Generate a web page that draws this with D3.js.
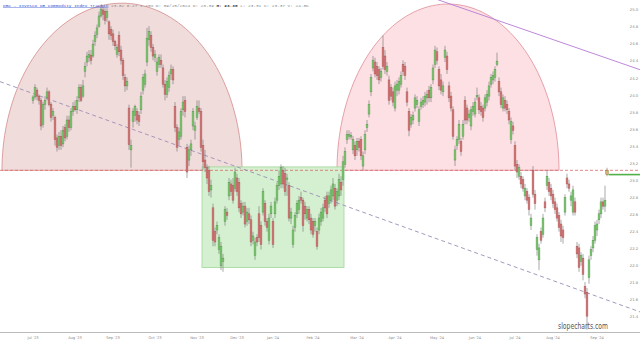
<!DOCTYPE html>
<html><head><meta charset="utf-8">
<script src="https://cdn.jsdelivr.net/npm/d3@7"></script>
<style>html,body{margin:0;padding:0;background:#fff;}svg{display:block;}</style>
</head><body>
<svg id="chart" width="640" height="341"></svg>
<script>
// Daily bars, one row per session: [open, high, low, close]
const bars = [
[23.94,24.00,23.90,23.98],[23.98,24.13,23.95,24.09],[24.06,24.09,23.94,23.99],[23.99,24.01,23.89,23.94],[23.94,23.97,23.59,23.64],
[23.66,23.92,23.62,23.89],[23.89,23.99,23.83,23.94],[23.97,24.09,23.94,24.04],[24.04,24.06,23.87,23.89],[23.89,23.92,23.69,23.74],
[23.76,23.85,23.71,23.81],[23.74,23.76,23.41,23.48],[23.50,23.54,23.34,23.39],[23.41,23.57,23.36,23.52],[23.52,23.59,23.36,23.41],
[23.43,23.64,23.39,23.59],[23.62,23.66,23.46,23.50],[23.52,23.76,23.48,23.71],[23.71,23.76,23.57,23.62],[23.62,23.85,23.59,23.81],
[23.81,23.92,23.76,23.87],[23.87,23.94,23.81,23.83],[23.83,23.99,23.78,23.94],[23.97,24.13,23.92,24.09],[24.09,24.13,23.92,23.94],
[23.99,24.18,23.97,24.11],[24.28,24.39,24.21,24.34],[24.39,24.51,24.34,24.46],[24.44,24.53,24.39,24.48],[24.47,24.53,24.36,24.41],
[24.46,24.65,24.44,24.60],[24.63,24.75,24.58,24.70],[24.71,24.83,24.67,24.79],[24.81,24.98,24.79,24.93],[24.93,25.06,24.91,25.01],
[25.00,25.05,24.88,24.95],[24.98,25.02,24.83,24.88],[24.91,25.02,24.86,24.98],[24.86,24.88,24.65,24.72],[24.77,24.81,24.65,24.70],
[24.72,24.77,24.58,24.63],[24.63,24.65,24.53,24.58],[24.48,24.60,24.44,24.56],[24.70,24.75,24.46,24.51],[24.53,24.58,24.36,24.41],
[24.41,24.44,24.18,24.23],[24.21,24.25,24.04,24.11],[24.11,24.21,24.06,24.16],[23.85,23.89,23.36,23.42],[23.36,23.48,23.15,23.41],
[23.69,23.85,23.62,23.81],[23.76,23.89,23.69,23.87],[23.81,23.85,23.66,23.71],[23.76,23.81,23.64,23.69],[23.83,24.04,23.78,23.99],
[24.06,24.25,24.01,24.21],[24.13,24.30,24.09,24.25],[24.39,24.79,24.34,24.67],[24.65,24.81,24.58,24.75],[24.70,24.75,24.51,24.56],
[24.56,24.60,24.41,24.46],[24.44,24.53,24.39,24.48],[24.28,24.44,24.23,24.39],[24.36,24.48,24.32,24.44],[24.41,24.48,24.32,24.36],
[24.32,24.36,24.09,24.13],[24.13,24.18,23.94,24.01],[24.01,24.21,23.97,24.16],[24.09,24.28,24.04,24.23],[24.25,24.36,24.18,24.30],
[24.30,24.34,24.13,24.18],[23.87,23.92,23.57,23.62],[23.62,23.66,23.34,23.39],[23.48,23.62,23.41,23.57],[23.52,23.85,23.48,23.81],
[23.83,23.99,23.76,23.92],[23.94,23.99,23.74,23.81],[23.39,23.43,23.03,23.10],[23.24,23.41,23.17,23.36],[23.36,23.48,23.29,23.43],
[23.64,23.85,23.59,23.81],[23.59,23.69,23.48,23.64],[23.74,23.94,23.71,23.87],[23.85,23.94,23.78,23.81],[23.81,23.85,23.34,23.39],
[23.41,23.48,23.12,23.22],[23.24,23.36,23.10,23.15],[23.15,23.19,22.96,23.03],[23.12,23.17,22.82,22.87],[22.89,23.01,22.80,22.94],
[22.68,22.73,22.23,22.30],[22.40,22.45,22.23,22.28],[22.42,22.52,22.37,22.47],[22.19,22.37,22.14,22.33],[22.00,22.28,21.95,22.23],
[22.05,22.14,21.93,22.09],[22.52,22.70,22.47,22.66],[22.63,22.68,22.54,22.59],[22.82,23.03,22.77,22.98],[22.96,23.01,22.82,22.87],
[22.94,23.03,22.73,22.77],[22.91,23.15,22.87,23.10],[23.03,23.08,22.82,22.87],[22.98,23.03,22.63,22.68],[22.73,22.77,22.56,22.61],
[22.63,22.75,22.59,22.70],[22.70,22.75,22.45,22.49],[22.52,22.68,22.47,22.63],[22.61,22.68,22.49,22.54],[22.54,22.59,22.23,22.28],
[22.30,22.40,22.25,22.35],[22.12,22.33,22.07,22.28],[22.33,22.37,22.23,22.28],[22.61,22.70,22.28,22.33],[22.47,22.52,22.19,22.25],
[22.63,22.91,22.59,22.87],[22.73,22.77,22.47,22.52],[22.52,22.56,22.40,22.45],[22.30,22.61,22.25,22.56],[22.61,22.75,22.56,22.70],
[22.52,22.56,22.21,22.25],[22.61,22.80,22.56,22.75],[22.77,22.98,22.73,22.94],[22.94,23.12,22.89,23.05],[22.96,23.19,22.91,23.15],
[23.12,23.17,22.91,22.96],[23.08,23.15,22.82,22.87],[23.01,23.08,22.82,23.03],[22.94,22.98,22.52,22.56],[22.56,22.68,22.49,22.63],
[22.25,22.47,22.21,22.42],[22.45,22.63,22.40,22.59],[22.61,22.77,22.56,22.73],[22.66,22.82,22.61,22.77],[22.80,22.87,22.73,22.77],
[22.77,22.80,22.40,22.47],[22.70,22.75,22.54,22.61],[22.56,22.70,22.52,22.66],[22.66,22.70,22.49,22.54],[22.56,22.61,22.37,22.42],
[22.52,22.56,22.33,22.37],[22.47,22.56,22.40,22.52],[22.40,22.45,22.19,22.23],[22.42,22.61,22.37,22.56],[22.52,22.68,22.47,22.63],
[22.56,22.73,22.52,22.68],[22.77,22.82,22.63,22.68],[22.82,22.87,22.56,22.61],[22.73,22.87,22.68,22.82],[22.77,22.94,22.73,22.89],
[22.82,23.03,22.77,22.96],[22.91,22.96,22.66,22.70],[22.77,22.91,22.70,22.87],[22.82,23.08,22.77,23.01],[22.98,23.05,22.82,22.89],
[23.01,23.29,22.94,23.22],[23.19,23.39,23.15,23.34],[23.48,23.59,23.43,23.54],[23.52,23.59,23.48,23.54],[23.51,23.57,23.48,23.53],
[23.36,23.52,23.31,23.48],[23.41,23.46,23.24,23.29],[23.36,23.50,23.29,23.46],[23.46,23.50,23.34,23.39],[23.48,23.52,23.24,23.29],
[23.17,23.34,23.12,23.29],[23.36,23.59,23.31,23.54],[23.62,23.71,23.57,23.66],[23.78,23.94,23.74,23.89],[24.04,24.25,23.99,24.21],
[24.32,24.46,24.28,24.41],[24.39,24.44,24.21,24.25],[24.34,24.39,24.18,24.23],[24.30,24.34,24.13,24.18],[24.21,24.32,24.16,24.28],
[24.56,24.70,24.30,24.34],[24.46,24.53,24.25,24.30],[24.28,24.39,24.23,24.34],[24.18,24.23,23.89,23.94],[24.09,24.13,23.94,23.99],
[24.04,24.09,23.87,23.92],[23.85,24.16,23.81,24.11],[24.06,24.18,23.99,24.13],[24.06,24.21,24.01,24.16],[24.13,24.28,24.09,24.23],
[24.36,24.41,24.23,24.28],[24.34,24.39,24.18,24.23],[24.04,24.09,23.87,23.92],[23.81,23.85,23.52,23.59],[23.66,23.78,23.62,23.74],
[23.71,23.81,23.66,23.76],[23.85,24.01,23.81,23.97],[23.89,23.99,23.85,23.94],[23.69,23.87,23.64,23.83],[23.87,23.97,23.83,23.92],
[23.89,23.99,23.85,23.94],[23.92,24.04,23.87,23.99],[23.97,24.06,23.89,24.01],[24.06,24.11,23.92,23.97],[23.97,24.13,23.92,24.09],
[24.18,24.36,24.13,24.32],[24.36,24.58,24.32,24.53],[24.51,24.56,24.36,24.41],[24.30,24.34,24.06,24.11],[24.18,24.25,24.01,24.06],
[24.04,24.16,23.99,24.11],[24.44,24.58,24.39,24.53],[24.46,24.51,24.25,24.30],[24.11,24.16,23.92,23.97],[23.99,24.04,23.81,23.85],
[23.83,23.87,23.48,23.52],[23.24,23.41,23.17,23.36],[23.41,23.52,23.36,23.48],[23.48,23.71,23.43,23.66],[23.46,23.50,23.29,23.34],
[23.52,23.71,23.48,23.66],[23.94,23.99,23.66,23.71],[23.85,23.89,23.66,23.71],[23.74,23.83,23.69,23.78],[23.64,23.87,23.59,23.83],
[23.81,23.92,23.76,23.87],[23.78,23.97,23.74,23.92],[23.98,24.09,23.94,24.00],[23.97,24.01,23.78,23.83],[23.87,23.92,23.76,23.81],
[23.85,23.89,23.69,23.74],[23.85,24.01,23.81,23.97],[23.92,24.06,23.87,24.01],[23.99,24.16,23.94,24.11],[24.13,24.25,24.09,24.21],
[24.18,24.28,24.13,24.23],[24.21,24.34,24.16,24.30],[24.36,24.50,24.34,24.40],[24.16,24.21,23.99,24.04],[24.04,24.09,23.85,23.89],
[23.85,24.01,23.81,23.97],[23.94,23.99,23.81,23.85],[23.89,23.94,23.78,23.83],[23.81,23.85,23.66,23.71],[23.48,23.74,23.43,23.69],
[23.64,23.69,23.54,23.59],[23.41,23.46,23.12,23.17],[23.19,23.24,23.03,23.10],[23.05,23.19,23.01,23.15],[23.05,23.10,22.91,22.96],
[23.01,23.05,22.87,22.91],[22.82,22.96,22.77,22.91],[22.87,22.91,22.73,22.77],[22.80,22.84,22.59,22.66],[22.47,22.61,22.42,22.56],
[23.12,23.17,22.80,22.84],[22.84,22.89,22.66,22.73],[22.19,22.37,22.12,22.33],[22.07,22.26,21.95,22.21],[22.40,22.45,22.26,22.30],
[22.37,22.61,22.33,22.56],[22.75,22.80,22.63,22.68],[22.94,23.12,22.89,23.05],[22.98,23.03,22.82,22.87],[22.91,22.96,22.77,22.82],
[22.84,22.89,22.68,22.73],[22.75,22.80,22.61,22.66],[22.68,22.73,22.52,22.56],[22.59,22.63,22.40,22.45],[22.49,22.54,22.28,22.35],
[22.42,22.47,22.26,22.33],[22.63,22.84,22.59,22.80],[23.03,23.08,22.91,22.96],[22.96,23.01,22.87,22.91],[22.77,22.87,22.70,22.82],
[22.63,22.94,22.59,22.89],[22.75,22.80,22.59,22.63],[22.23,22.28,22.09,22.14],[22.21,22.26,21.93,21.98],[22.05,22.16,22.00,22.12],
[22.09,22.14,21.83,21.90],[21.76,21.81,21.62,21.67],[21.69,21.74,21.25,21.41],[21.86,22.12,21.79,22.07],[22.12,22.23,22.07,22.19],
[22.21,22.35,22.16,22.30],[22.30,22.52,22.26,22.47],[22.42,22.54,22.35,22.49],[22.54,22.66,22.49,22.61],[22.61,22.80,22.56,22.75],
[22.75,22.80,22.66,22.70],[22.70,22.94,22.63,22.77]
];
// Current (live) session
const liveBar = [23.12, 23.15, 23.05, 23.07];

const monthLabels = ["Jul '23","Aug '23","Sep '23","Oct '23","Nov '23","Dec '23","Jan '24","Feb '24","Mar '24","Apr '24","May '24","Jun '24","Jul '24","Aug '24","Sep '24"];
const monthFirstBar = [0,21,40,61,82,102,120,140,162,181,202,221,241,260,282];
const priceTicks = [25.0,24.8,24.6,24.4,24.2,24.0,23.8,23.6,23.4,23.2,23.0,22.8,22.6,22.4,22.2,22.0,21.8,21.6,21.4];

// Drawn studies, in bar index / price units
const supportLevel = 23.12;
const leftDome  = {from: -15.5, to: 104.5, base: 23.12, top: 25.08};
const rightDome = {from: 152,   to: 263,   base: 23.12, top: 25.07};
const baseBox   = {from: 84.5,  to: 155.5, top: 23.16, bottom: 21.98};
const downTrend = [[-16.5, 24.16], [303.5, 21.46]];
const topTrend  = [[202.5, 25.12], [303.5, 24.30]];

const quote = {symbol: "DBC - Invesco DB Commodity Index Trackin", rest1: " 23.82 0.27 1.15% D: 09/25/2024 O: 23.39 ", hi: "H: 23.38", rest2: " L: 23.31 C: 23.37 V: 24.8K"};

const W = 640, H = 341, axisY = 332;
const svg = d3.select("#chart");
const x = d3.scaleLinear().domain([-16.5, 303.5]).range([0, W]);
const y = d3.scaleLinear().domain([21.4, 25.0]).range([317, 10]);

const plot = svg.append("g");
plot.append("clipPath").attr("id","clip").append("rect").attr("x",0).attr("y",0).attr("width",W).attr("height",axisY);
const g = plot.append("g").attr("clip-path","url(#clip)");

function domePath(d){
  const cx = (d.from + d.to) / 2, rx = (d.to - d.from) / 2;
  const pts = d3.range(0, 181, 2).map(a => {
    const t = a * Math.PI / 180;
    return [x(cx - rx * Math.cos(t)), y(d.base + (d.top - d.base) * Math.sin(t))];
  });
  return d3.line()(pts) + "Z";
}

g.append("path").attr("d", domePath(leftDome)).attr("fill","#f1dcdc").attr("stroke","#d38c8c").attr("stroke-width",0.8);
g.append("path").attr("d", domePath(rightDome)).attr("fill","#fde0e3").attr("stroke","#e08c95").attr("stroke-width",0.8);

g.append("rect")
  .attr("x", x(baseBox.from)).attr("y", y(baseBox.top))
  .attr("width", x(baseBox.to) - x(baseBox.from)).attr("height", y(baseBox.bottom) - y(baseBox.top))
  .attr("fill","#d5f0d0").attr("stroke","#9fd699").attr("stroke-width",0.8);

g.append("line").attr("x1",0).attr("x2",W).attr("y1",y(supportLevel)).attr("y2",y(supportLevel))
  .attr("stroke","#d96a6a").attr("stroke-width",0.8).attr("stroke-dasharray","3,2");

g.append("line")
  .attr("x1", x(downTrend[0][0])).attr("y1", y(downTrend[0][1]))
  .attr("x2", x(downTrend[1][0])).attr("y2", y(downTrend[1][1]))
  .attr("stroke","#9b8db5").attr("stroke-width",0.9).attr("stroke-dasharray","4,3");

g.append("line")
  .attr("x1", x(topTrend[0][0])).attr("y1", y(topTrend[0][1]))
  .attr("x2", x(topTrend[1][0])).attr("y2", y(topTrend[1][1]))
  .attr("stroke","#b57ad6").attr("stroke-width",0.9);

// candles
const bw = 1.8;
const cg = g.append("g");
bars.forEach((d, i) => {
  const [o, h, l, c] = d;
  const up = c >= o;
  cg.append("line").attr("x1", x(i)).attr("x2", x(i)).attr("y1", y(h)).attr("y2", y(l))
    .attr("stroke", "#707070").attr("stroke-width", 0.6);
  const top = y(Math.max(o, c)), bot = y(Math.min(o, c));
  cg.append("rect").attr("x", x(i) - bw / 2).attr("y", top)
    .attr("width", bw).attr("height", Math.max(0.8, bot - top))
    .attr("fill", up ? "#86cf79" : "#d97f7f")
    .attr("stroke", up ? "#4a9642" : "#aa4c4c").attr("stroke-width", 0.45);
});
{
  const i = bars.length, [o, h, l, c] = liveBar;
  cg.append("line").attr("x1", x(i)).attr("x2", x(i)).attr("y1", y(h)).attr("y2", y(l))
    .attr("stroke", "#8a6a30").attr("stroke-width", 0.6);
  cg.append("rect").attr("x", x(i) - 1.2).attr("y", y(Math.max(o, c)))
    .attr("width", 2.4).attr("height", Math.max(1, y(Math.min(o, c)) - y(Math.max(o, c))))
    .attr("fill", "#d8b878").attr("stroke", "#8a6a30").attr("stroke-width", 0.5);
  g.append("line").attr("x1", x(i) + 1.5).attr("x2", W).attr("y1", y(c)).attr("y2", y(c))
    .attr("stroke", "#52b04a").attr("stroke-width", 1.6);
}

// price axis labels
svg.append("g").selectAll("text").data(priceTicks).join("text")
  .attr("x", 634).attr("y", d => y(d) + 1.3)
  .attr("text-anchor","middle").attr("font-family","DejaVu Sans, sans-serif")
  .attr("font-size", 3.8).attr("fill","#888")
  .text(d => d.toFixed(1));

// time axis
svg.append("line").attr("x1",0).attr("x2",W).attr("y1",axisY + 0.5).attr("y2",axisY + 0.5)
  .attr("stroke","#bbb").attr("stroke-width",1);
svg.append("g").selectAll("text").data(monthLabels).join("text")
  .attr("x", (d, k) => x(monthFirstBar[k])).attr("y", 338.5)
  .attr("text-anchor","middle").attr("font-family","DejaVu Sans, sans-serif")
  .attr("font-size", 3.6).attr("fill","#888")
  .text(d => d);

// watermark
svg.append("text").attr("x", 583).attr("y", 328.5).attr("text-anchor","middle")
  .attr("font-family","DejaVu Sans, sans-serif").attr("font-size", 8).attr("fill","#555")
  .attr("textLength", 50).attr("lengthAdjust","spacingAndGlyphs")
  .text("slopecharts.com");

// header quote line
const hdr = svg.append("text").attr("x", 3).attr("y", 6.5)
  .attr("font-family","Liberation Mono, DejaVu Sans Mono, monospace").attr("font-size", 4.4).attr("fill","#888");
hdr.append("tspan").attr("fill","#3b5bd6").attr("text-decoration","underline").text(quote.symbol);
hdr.append("tspan").text(quote.rest1);
hdr.append("tspan").attr("font-weight","bold").attr("fill","#333").text(quote.hi);
hdr.append("tspan").text(quote.rest2);
</script>
</body></html>
